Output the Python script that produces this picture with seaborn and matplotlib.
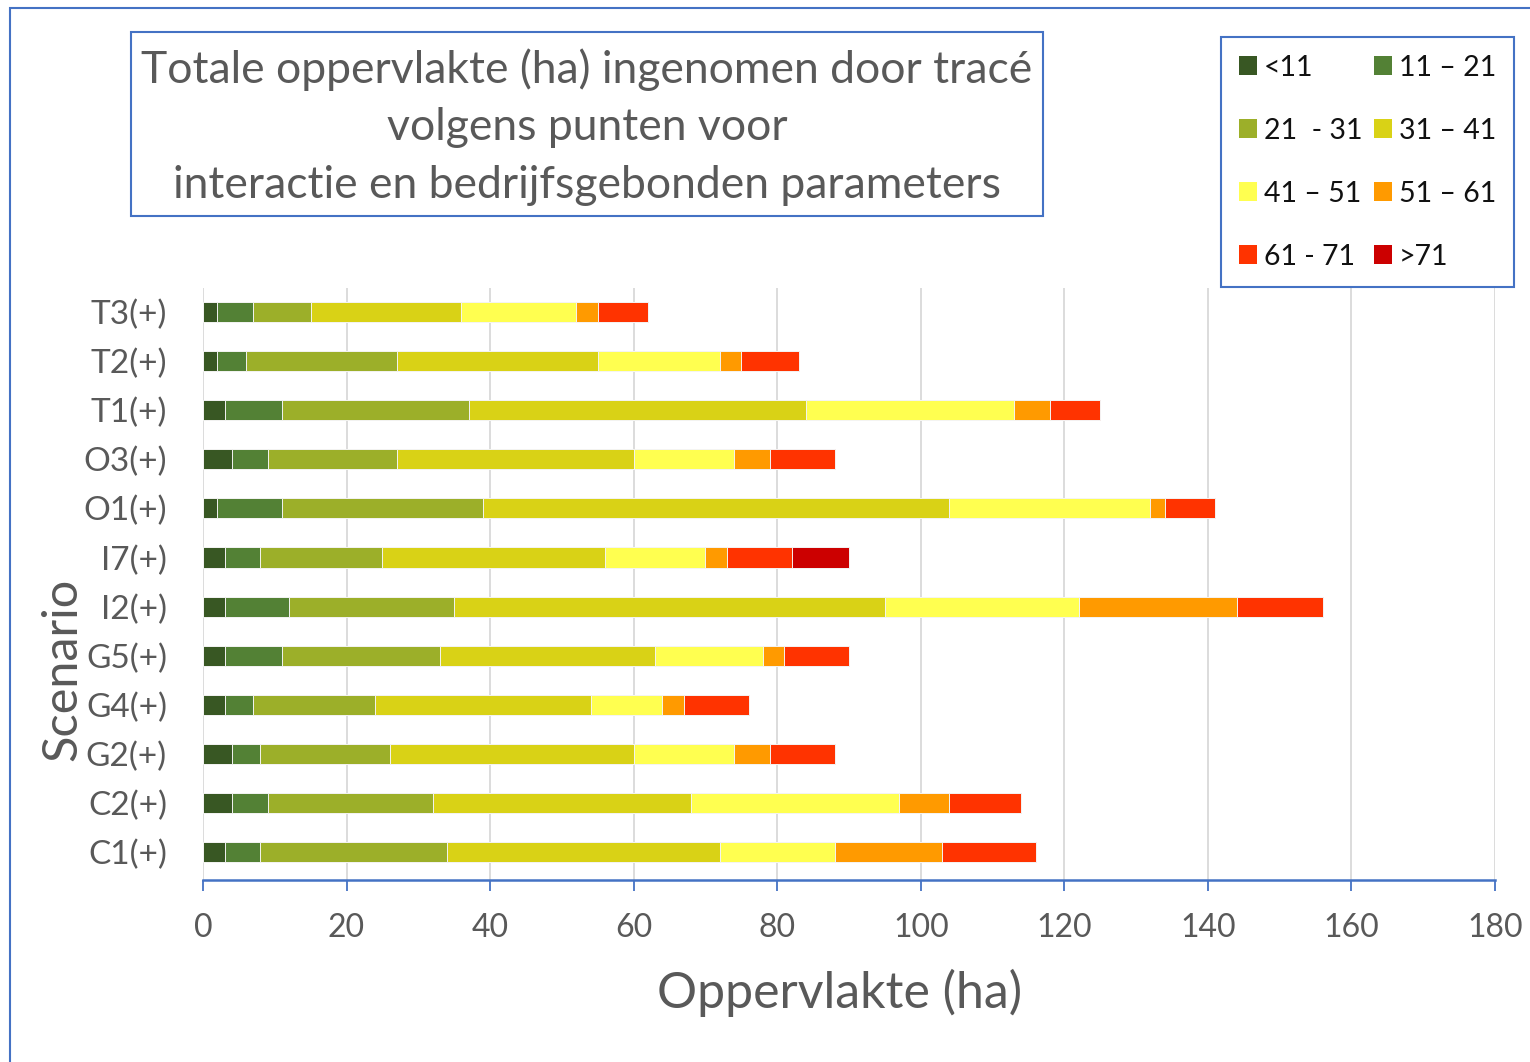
import numpy as np
import pandas as pd
import matplotlib
matplotlib.use("Agg")
import matplotlib.pyplot as plt
import seaborn as sns
from matplotlib.patches import Patch, Rectangle

# ---- data ----
scenarios = ["T3(+)", "T2(+)", "T1(+)", "O3(+)", "O1(+)", "I7(+)",
             "I2(+)", "G5(+)", "G4(+)", "G2(+)", "C2(+)", "C1(+)"]
class_labels = ["<11", "11 \u2013 21", "21  - 31", "31 \u2013 41",
                "41 \u2013 51", "51 \u2013 61", "61 - 71", ">71"]
class_colors = ["#385723", "#538135", "#9CAF29", "#D9D216",
                "#FFFF50", "#FF9A00", "#FF3300", "#CC0000"]

lt11   = [2, 2, 3, 4, 2, 3, 3, 3, 3, 4, 4, 3]
r11_21 = [5, 4, 8, 5, 9, 5, 9, 8, 4, 4, 5, 5]
r21_31 = [8, 21, 26, 18, 28, 17, 23, 22, 17, 18, 23, 26]
r31_41 = [21, 28, 47, 33, 65, 31, 60, 30, 30, 34, 36, 38]
r41_51 = [16, 17, 29, 14, 28, 14, 27, 15, 10, 14, 29, 16]
r51_61 = [3, 3, 5, 5, 2, 3, 22, 3, 3, 5, 7, 15]
r61_71 = [7, 8, 7, 9, 7, 9, 12, 9, 9, 9, 10, 13]
gt71   = [0, 0, 0, 0, 0, 8, 0, 0, 0, 0, 0, 0]

x_ticks = list(range(0, 181, 20))

title_text = ("Totale oppervlakte (ha) ingenomen door trac\u00e9\n"
              "volgens punten voor\n"
              "interactie en bedrijfsgebonden parameters")

# ---- style ----
sns.set_style("white")
plt.rcParams["font.family"] = ["Lato", "DejaVu Sans"]

BLUE = "#4472C4"
GRAY_TXT = "#595959"
W, H = 1530, 1062

fig = plt.figure(figsize=(W / 100, H / 100), dpi=100)
ax = fig.add_axes([203 / W, 1 - 880 / H, (1495 - 203) / W, (880 - 288) / H])

segments = np.array([lt11, r11_21, r21_31, r31_41, r41_51, r51_61, r61_71, gt71])
cum = np.cumsum(segments, axis=0)

for i in reversed(range(len(segments))):
    df = pd.DataFrame({"Scenario": scenarios, "Oppervlakte": cum[i]})
    sns.barplot(data=df, y="Scenario", x="Oppervlakte", order=scenarios,
                orient="h", color=class_colors[i], saturation=1, width=0.41,
                errorbar=None, ax=ax, edgecolor="#f4f4f4", linewidth=0.7)

ax.set_axisbelow(True)
ax.set_xlim(0, 180)
ax.set_ylim(len(scenarios) - 0.43, -0.49)
ax.set_xticks(x_ticks)
ax.set_xticklabels([str(t) for t in x_ticks])
ax.grid(axis="x", color="#d9d9d9", linewidth=1.3)
ax.grid(axis="y", visible=False)
for s in ["left", "top", "right"]:
    ax.spines[s].set_visible(False)
ax.spines["bottom"].set_color(BLUE)
ax.spines["bottom"].set_linewidth(1.8)
ax.tick_params(axis="x", bottom=True, direction="out", length=8, width=1.3,
               color=BLUE, labelsize=23, labelcolor=GRAY_TXT, pad=16)
ax.tick_params(axis="y", left=False, length=0, labelsize=24,
               labelcolor=GRAY_TXT, pad=26)
ax.set_xlabel("")
ax.set_ylabel("")

# axis titles
fig.text(840 / W, 1 - 993 / H, "Oppervlakte (ha)", ha="center", va="center",
         fontsize=36, color=GRAY_TXT)
fig.text(62 / W, 1 - 669 / H, "Scenario", ha="center", va="center",
         rotation=90, fontsize=35, color=GRAY_TXT)

# title box
fig.patches.append(Rectangle((131 / W, 1 - 216 / H), 912 / W, 184 / H,
                             transform=fig.transFigure, fill=False,
                             edgecolor=BLUE, linewidth=1.5))
fig.text(587 / W, 1 - 127 / H, title_text, ha="center", va="center",
         fontsize=32, color=GRAY_TXT, linespacing=1.5)

# outer chart border
fig.patches.append(Rectangle((10 / W, -0.1), 1.2, 1.1 - 8 / H,
                             transform=fig.transFigure, fill=False,
                             edgecolor=BLUE, linewidth=1.5))

# legend (row-wise order in 2 columns)
handles = [Patch(facecolor=c, edgecolor="none") for c in class_colors]
order = [0, 2, 4, 6, 1, 3, 5, 7]
leg = fig.legend([handles[k] for k in order], [class_labels[k] for k in order],
                 ncol=2, loc="upper left",
                 bbox_to_anchor=(1221 / W, 1 - 37 / H),
                 bbox_transform=fig.transFigure,
                 fontsize=20.5, frameon=True, fancybox=False, framealpha=1,
                 edgecolor=BLUE, handlelength=0.64, handleheight=0.64,
                 handletextpad=0.25, columnspacing=0.4, labelspacing=1.3,
                 borderpad=0.62, borderaxespad=0)
leg.get_frame().set_linewidth(1.5)
for t in leg.get_texts():
    t.set_color("#111111")

fig.savefig("out.png", dpi=100)
